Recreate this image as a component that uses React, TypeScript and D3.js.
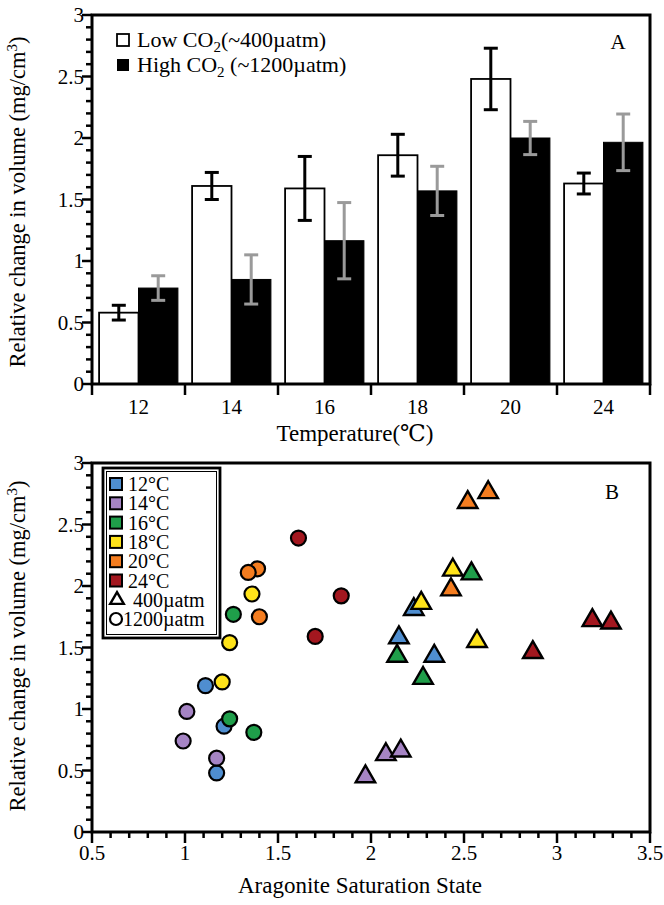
import React from "react";
import * as d3 from "d3";

const temps = ["12", "14", "16", "18", "20", "24"];
const lowMean = [0.58, 1.61, 1.59, 1.86, 2.48, 1.63];
const lowErr = [0.06, 0.11, 0.26, 0.17, 0.25, 0.085];
const highMean = [0.78, 0.85, 1.165, 1.57, 2.0, 1.965];
const highErr = [0.1, 0.2, 0.31, 0.2, 0.135, 0.23];

const scatterTemps = ["12°C", "14°C", "16°C", "18°C", "20°C", "24°C"];
const tempColors = ["#4F8ED0", "#A584C4", "#1F9E4A", "#FFE31A", "#F47D20", "#A3171F"];
const circleArag = [
  [1.11, 1.21, 1.17],
  [1.01, 0.99, 1.17],
  [1.26, 1.24, 1.37],
  [1.24, 1.20, 1.36],
  [1.39, 1.34, 1.40],
  [1.61, 1.84, 1.70],
];
const circleVol = [
  [1.19, 0.86, 0.48],
  [0.98, 0.74, 0.60],
  [1.77, 0.92, 0.81],
  [1.54, 1.22, 1.935],
  [2.14, 2.11, 1.75],
  [2.39, 1.92, 1.59],
];
const triArag = [
  [2.23, 2.15, 2.34],
  [2.08, 2.16, 1.97],
  [2.54, 2.14, 2.28],
  [2.44, 2.27, 2.57],
  [2.52, 2.63, 2.43],
  [3.19, 3.29, 2.87],
];
const triVol = [
  [1.81, 1.58, 1.43],
  [0.63, 0.66, 0.45],
  [2.10, 1.43, 1.25],
  [2.13, 1.86, 1.55],
  [2.68, 2.76, 1.97],
  [1.72, 1.70, 1.46],
];

const yMajor = [0, 0.5, 1, 1.5, 2, 2.5, 3];
const yMajorLabels = ["0", "0.5", "1", "1.5", "2", "2.5", "3"];
const xMajorB = [0.5, 1, 1.5, 2, 2.5, 3, 3.5];
const xMajorBLabels = ["0.5", "1", "1.5", "2", "2.5", "3", "3.5"];

const FONT = "Liberation Serif, Tinos, Times New Roman, DejaVu Serif, serif";
const L = 92, R = 650;

export default function App() {
  const yA = d3.scaleLinear().domain([0, 3]).range([384, 15]);
  const yB = d3.scaleLinear().domain([0, 3]).range([832, 463]);
  const xBand = d3.scaleBand<string>().domain(temps).range([L, R]).paddingInner(0).paddingOuter(0);
  const xSub = d3.scaleBand<string>().domain(["low", "high"]).range([0, xBand.bandwidth()]).paddingInner(0).paddingOuter(0.18);
  const xB = d3.scaleLinear().domain([0.5, 3.5]).range([L, R]);

  const minorY = d3.range(0, 31).map((i) => i / 10).filter((v) => Math.round(v * 10) % 5 !== 0);
  const minorXB = d3.range(5, 36).map((i) => i / 10).filter((v) => Math.round(v * 10) % 5 !== 0);
  const boundaries = [...temps.map((t) => xBand(t) as number), R];

  const tri = d3.symbol(d3.symbolTriangle, 165)() as string;

  const yAxis = (y: d3.ScaleLinear<number, number>) => (
    <g>
      {yMajor.map((v, i) => (
        <g key={"M" + i}>
          <line x1={L - 10} x2={L} y1={y(v)} y2={y(v)} stroke="#000" strokeWidth={2.5} />
          <text x={L - 8} y={y(v) + 7} textAnchor="end" fontSize={21} fontFamily={FONT}>{yMajorLabels[i]}</text>
        </g>
      ))}
      {minorY.map((v, i) => (
        <line key={"m" + i} x1={L - 6} x2={L} y1={y(v)} y2={y(v)} stroke="#000" strokeWidth={2.5} />
      ))}
    </g>
  );

  const frame = (y: d3.ScaleLinear<number, number>) => (
    <rect x={L} y={y(3)} width={R - L} height={y(0) - y(3)} fill="none" stroke="#000" strokeWidth={3} />
  );

  const ylabel = (cy: number) => (
    <text transform={`translate(25,${cy}) rotate(-90)`} textAnchor="middle" fontSize={22.5} fontFamily={FONT}>
      Relative change in volume (mg/cm<tspan dy={-8} fontSize={15}>3</tspan><tspan dy={8}>)</tspan>
    </text>
  );

  return (
    <svg width={664} height={905} style={{ position: "absolute", left: 0, top: 0, background: "#fff" }} fontFamily={FONT}>
      {/* ===== Panel A ===== */}
      {temps.map((t, i) => {
        const x0 = xBand(t) as number;
        const xl = x0 + (xSub("low") as number);
        const xh = x0 + (xSub("high") as number);
        const bw = xSub.bandwidth();
        return (
          <g key={t}>
            <rect x={xl} y={yA(lowMean[i])} width={bw} height={yA(0) - yA(lowMean[i])} fill="#fff" stroke="#000" strokeWidth={1.8} />
            <rect x={xh} y={yA(highMean[i])} width={bw} height={yA(0) - yA(highMean[i])} fill="#000" stroke="#000" strokeWidth={1} />
          </g>
        );
      })}
      {temps.map((t, i) => {
        const x0 = xBand(t) as number;
        const bw = xSub.bandwidth();
        const cl = x0 + (xSub("low") as number) + bw / 2;
        const ch = x0 + (xSub("high") as number) + bw / 2;
        const cap = 7;
        return (
          <g key={"e" + t}>
            <g stroke="#000" strokeWidth={3}>
              <line x1={cl} x2={cl} y1={yA(lowMean[i] + lowErr[i])} y2={yA(lowMean[i] - lowErr[i])} />
              <line x1={cl - cap} x2={cl + cap} y1={yA(lowMean[i] + lowErr[i])} y2={yA(lowMean[i] + lowErr[i])} />
              <line x1={cl - cap} x2={cl + cap} y1={yA(lowMean[i] - lowErr[i])} y2={yA(lowMean[i] - lowErr[i])} />
            </g>
            <g stroke="#9a9a9a" strokeWidth={3}>
              <line x1={ch} x2={ch} y1={yA(highMean[i] + highErr[i])} y2={yA(highMean[i] - highErr[i])} />
              <line x1={ch - cap} x2={ch + cap} y1={yA(highMean[i] + highErr[i])} y2={yA(highMean[i] + highErr[i])} />
              <line x1={ch - cap} x2={ch + cap} y1={yA(highMean[i] - highErr[i])} y2={yA(highMean[i] - highErr[i])} />
            </g>
          </g>
        );
      })}
      {frame(yA)}
      {yAxis(yA)}
      {boundaries.map((b, i) => (
        <line key={"b" + i} x1={b} x2={b} y1={yA(0)} y2={yA(0) + 11} stroke="#000" strokeWidth={2.5} />
      ))}
      {temps.map((t) => (
        <text key={"xl" + t} x={(xBand(t) as number) + xBand.bandwidth() / 2} y={414} textAnchor="middle" fontSize={21} fontFamily={FONT}>{t}</text>
      ))}
      <text x={355} y={441} textAnchor="middle" fontSize={23} fontFamily={FONT}>Temperature(℃)</text>
      {ylabel(202)}
      {/* legend A */}
      <rect x={117} y={34} width={12} height={12} fill="#fff" stroke="#000" strokeWidth={1.8} />
      <rect x={117} y={59} width={12} height={12} fill="#000" />
      <text x={137} y={47} fontSize={22} fontFamily={FONT}>
        Low CO<tspan dy={5} fontSize={15}>2</tspan><tspan dy={-5}>(~400µatm)</tspan>
      </text>
      <text x={137} y={72} fontSize={22} fontFamily={FONT}>
        High CO<tspan dy={5} fontSize={15}>2</tspan><tspan dy={-5}> (~1200µatm)</tspan>
      </text>
      <text x={618} y={49} textAnchor="middle" fontSize={21} fontFamily={FONT}>A</text>

      {/* ===== Panel B ===== */}
      {frame(yB)}
      {yAxis(yB)}
      {xMajorB.map((v, i) => (
        <g key={"xb" + i}>
          <line x1={xB(v)} x2={xB(v)} y1={yB(0)} y2={yB(0) + 11} stroke="#000" strokeWidth={2.5} />
          <text x={xB(v)} y={860} textAnchor="middle" fontSize={21} fontFamily={FONT}>{xMajorBLabels[i]}</text>
        </g>
      ))}
      {minorXB.map((v, i) => (
        <line key={"xm" + i} x1={xB(v)} x2={xB(v)} y1={yB(0)} y2={yB(0) + 6} stroke="#000" strokeWidth={2.5} />
      ))}
      <text x={360} y={893} textAnchor="middle" fontSize={23} fontFamily={FONT}>Aragonite Saturation State</text>
      {ylabel(646)}
      <text x={612} y={499} textAnchor="middle" fontSize={21} fontFamily={FONT}>B</text>

      {scatterTemps.map((t, i) => (
        <g key={"c" + t}>
          {circleArag[i].map((a, j) => (
            <circle key={j} cx={xB(a)} cy={yB(circleVol[i][j])} r={7.5} fill={tempColors[i]} stroke="#000" strokeWidth={2.2} />
          ))}
        </g>
      ))}
      {scatterTemps.map((t, i) => (
        <g key={"t" + t}>
          {triArag[i].map((a, j) => (
            <path key={j} d={tri} transform={`translate(${xB(a)},${yB(triVol[i][j])})`} fill={tempColors[i]} stroke="#000" strokeWidth={2.4} strokeLinejoin="miter" />
          ))}
        </g>
      ))}

      {/* legend B */}
      <rect x={103} y={468} width={117} height={170} fill="#fff" stroke="#000" strokeWidth={2.8} />
      <rect x={106.5} y={471.5} width={110} height={163} fill="none" stroke="#000" strokeWidth={1} />
      {scatterTemps.map((t, i) => (
        <g key={"lg" + t}>
          <rect x={110} y={478 + i * 19.3} width={12} height={12} fill={tempColors[i]} stroke="#000" strokeWidth={2} />
          <text x={128} y={491 + i * 19.3} fontSize={20} fontFamily={FONT}>{t}</text>
        </g>
      ))}
      <path d={d3.symbol(d3.symbolTriangle, 80)() as string} transform={`translate(117,${600})`} fill="#fff" stroke="#000" strokeWidth={2.4} />
      <text x={133} y={607} fontSize={20} fontFamily={FONT}>400µatm</text>
      <circle cx={116} cy={619} r={6} fill="#fff" stroke="#000" strokeWidth={2.2} />
      <text x={123} y={626} fontSize={20} fontFamily={FONT}>1200µatm</text>
    </svg>
  );
}
